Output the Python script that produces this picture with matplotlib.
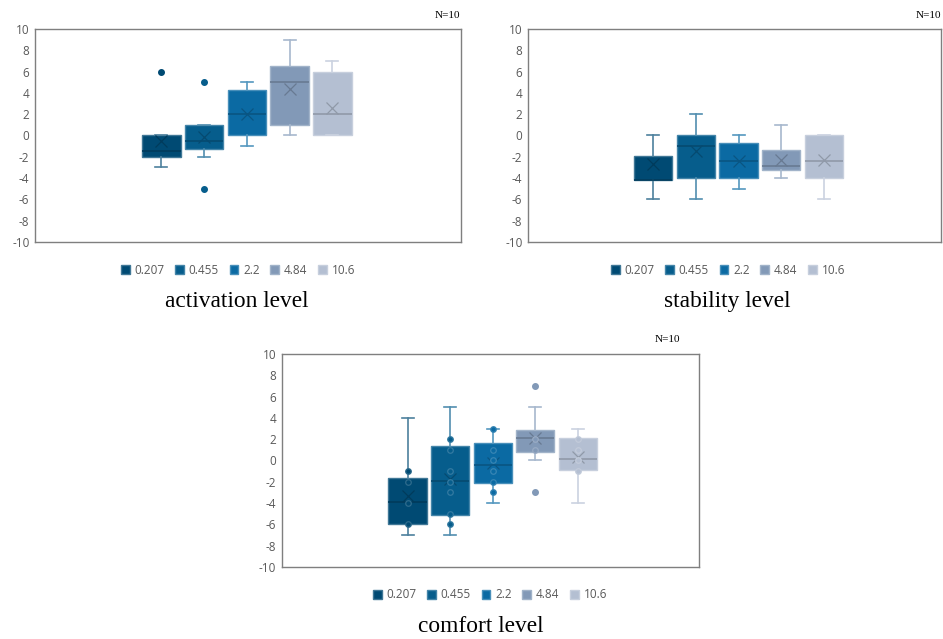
import matplotlib.pyplot as plt
import matplotlib.colors as mcolors
from matplotlib.patches import Patch
import numpy as np

plt.rcParams["axes.unicode_minus"] = False

# dose groups, one box each
groups = ["0.207", "0.455", "2.2", "4.84", "10.6"]
colors = ["#004a73", "#065d8c", "#0b6aa3", "#8299b7", "#b4bfd2"]

# activation level: q1, median, q3, whisker low, whisker high, mean
act_q1 = [-2, -1.25, 0, 1, 0]
act_med = [-1.5, -0.5, 2, 5, 2]
act_q3 = [0, 1, 4.3, 6.5, 6]
act_lo = [-3, -2, -1, 0, 0]
act_hi = [0, 1, 5, 9, 7]
act_mean = [-0.55, -0.15, 2, 4.4, 2.6]
act_fliers = [[6], [5, -5], [], [], []]
act_points = [[], [], [], [], []]

# stability level
stab_q1 = [-4.2, -4, -4, -3.2, -4]
stab_med = [-4.2, -1, -2.4, -2.9, -2.4]
stab_q3 = [-1.9, 0, -0.7, -1.4, 0]
stab_lo = [-6, -6, -5, -4, -6]
stab_hi = [0, 2, 0, 1, 0]
stab_mean = [-2.7, -1.5, -2.4, -2.3, -2.3]
stab_fliers = [[], [], [], [], []]
stab_points = [[], [], [], [], []]

# comfort level
comf_q1 = [-6, -5.15, -2.15, 0.8, -0.9]
comf_med = [-3.9, -1.9, -0.4, 2.1, 0.1]
comf_q3 = [-1.65, 1.35, 1.6, 2.85, 2.1]
comf_lo = [-7, -7, -4, 0, -4]
comf_hi = [4, 5, 3, 5, 3]
comf_mean = [-3.3, -1.7, -0.2, 2.1, 0.3]
comf_fliers = [[], [], [], [7, -3], []]
comf_points = [[-1, -2, -4, -6], [2, 1, -1, -2, -3, -5, -6], [3, 1, 0, -1, -2, -3], [2, 1], [2, 1, 0, -1]]

tick_font = "Open Sans"
grey = "#595959"


def blend(c, other, t):
    a = np.array(mcolors.to_rgb(c))
    b = np.array(mcolors.to_rgb(other))
    return tuple(a * (1 - t) + b * t)


def draw_panel(ax, q1, med, q3, lo, hi, mean, fliers, points, xlim):
    pos = np.arange(1, len(groups) + 1)
    for i in range(len(groups)):
        c = colors[i]
        st = [dict(q1=q1[i], med=med[i], q3=q3[i], whislo=lo[i], whishi=hi[i],
                   mean=mean[i], fliers=fliers[i])]
        light = blend(c, "white", 0.3)
        dark = blend(c, "black", 0.2)
        ax.bxp(st, positions=[pos[i]], widths=0.9, capwidths=0.28, patch_artist=True,
               showmeans=True, manage_ticks=False,
               boxprops=dict(facecolor=c, edgecolor=blend(c, "white", 0.25), linewidth=1),
               medianprops=dict(color=dark, linewidth=1.2),
               whiskerprops=dict(color=light, linewidth=1.2),
               capprops=dict(color=light, linewidth=1.2),
               meanprops=dict(marker="x", markeredgecolor=dark, markersize=9, markeredgewidth=0.9),
               flierprops=dict(marker="o", markerfacecolor=c, markeredgecolor=c, markersize=4))
        if points[i]:
            ax.scatter([pos[i]] * len(points[i]), points[i], s=16, facecolor=c,
                       edgecolor=blend(c, "white", 0.18), linewidth=0.9, zorder=3)
    ax.set_xlim(*xlim)
    ax.set_ylim(-10, 10)
    ax.set_yticks(range(-10, 11, 2))
    ax.set_xticks([])
    ax.tick_params(axis="y", length=0, pad=4, labelsize=8.5, labelcolor=grey)
    for lab in ax.get_yticklabels():
        lab.set_fontfamily(tick_font)
    for s in ax.spines.values():
        s.set_color("#7f7f7f")
        s.set_linewidth(1)


fig = plt.figure(figsize=(9.43, 6.39), dpi=100)

ax1 = fig.add_axes([0.0371, 0.6213, 0.4518, 0.3333])
draw_panel(ax1, act_q1, act_med, act_q3, act_lo, act_hi, act_mean, act_fliers, act_points, (-1.96, 8.01))

ax2 = fig.add_axes([0.5599, 0.6213, 0.438, 0.3333])
draw_panel(ax2, stab_q1, stab_med, stab_q3, stab_lo, stab_hi, stab_mean, stab_fliers, stab_points, (-1.93, 7.74))

ax3 = fig.add_axes([0.299, 0.1127, 0.442, 0.3333])
draw_panel(ax3, comf_q1, comf_med, comf_q3, comf_lo, comf_hi, comf_mean, comf_fliers, comf_points, (-1.95, 7.84))

handles = [Patch(facecolor=c, edgecolor=blend(c, "white", 0.25), label=g) for c, g in zip(colors, groups)]
for cx, cy in [(238, 270), (728, 270), (490, 595)]:
    fig.legend(handles=handles, loc="center", bbox_to_anchor=(cx / 943, 1 - cy / 639), ncol=5,
               frameon=False, handlelength=0.75, handleheight=0.75, handletextpad=0.4,
               columnspacing=0.9, prop=dict(family=tick_font, size=8.5), labelcolor=grey)

title_font = "Liberation Serif"
fig.text(237 / 943, 1 - 302 / 639, "activation level", ha="center", va="center", fontsize=16.8, family=title_font)
fig.text(727 / 943, 1 - 302 / 639, "stability level", ha="center", va="center", fontsize=16.8, family=title_font)
fig.text(481 / 943, 1 - 627 / 639, "comfort level", ha="center", va="center", fontsize=16.8, family=title_font)

fig.text(460 / 943, 1 - 15 / 639, "N=10", ha="right", va="center", fontsize=8, family=title_font)
fig.text(941 / 943, 1 - 15 / 639, "N=10", ha="right", va="center", fontsize=8, family=title_font)
fig.text(680 / 943, 1 - 340 / 639, "N=10", ha="right", va="center", fontsize=8, family=title_font)

fig.savefig("out.png", dpi=100)
